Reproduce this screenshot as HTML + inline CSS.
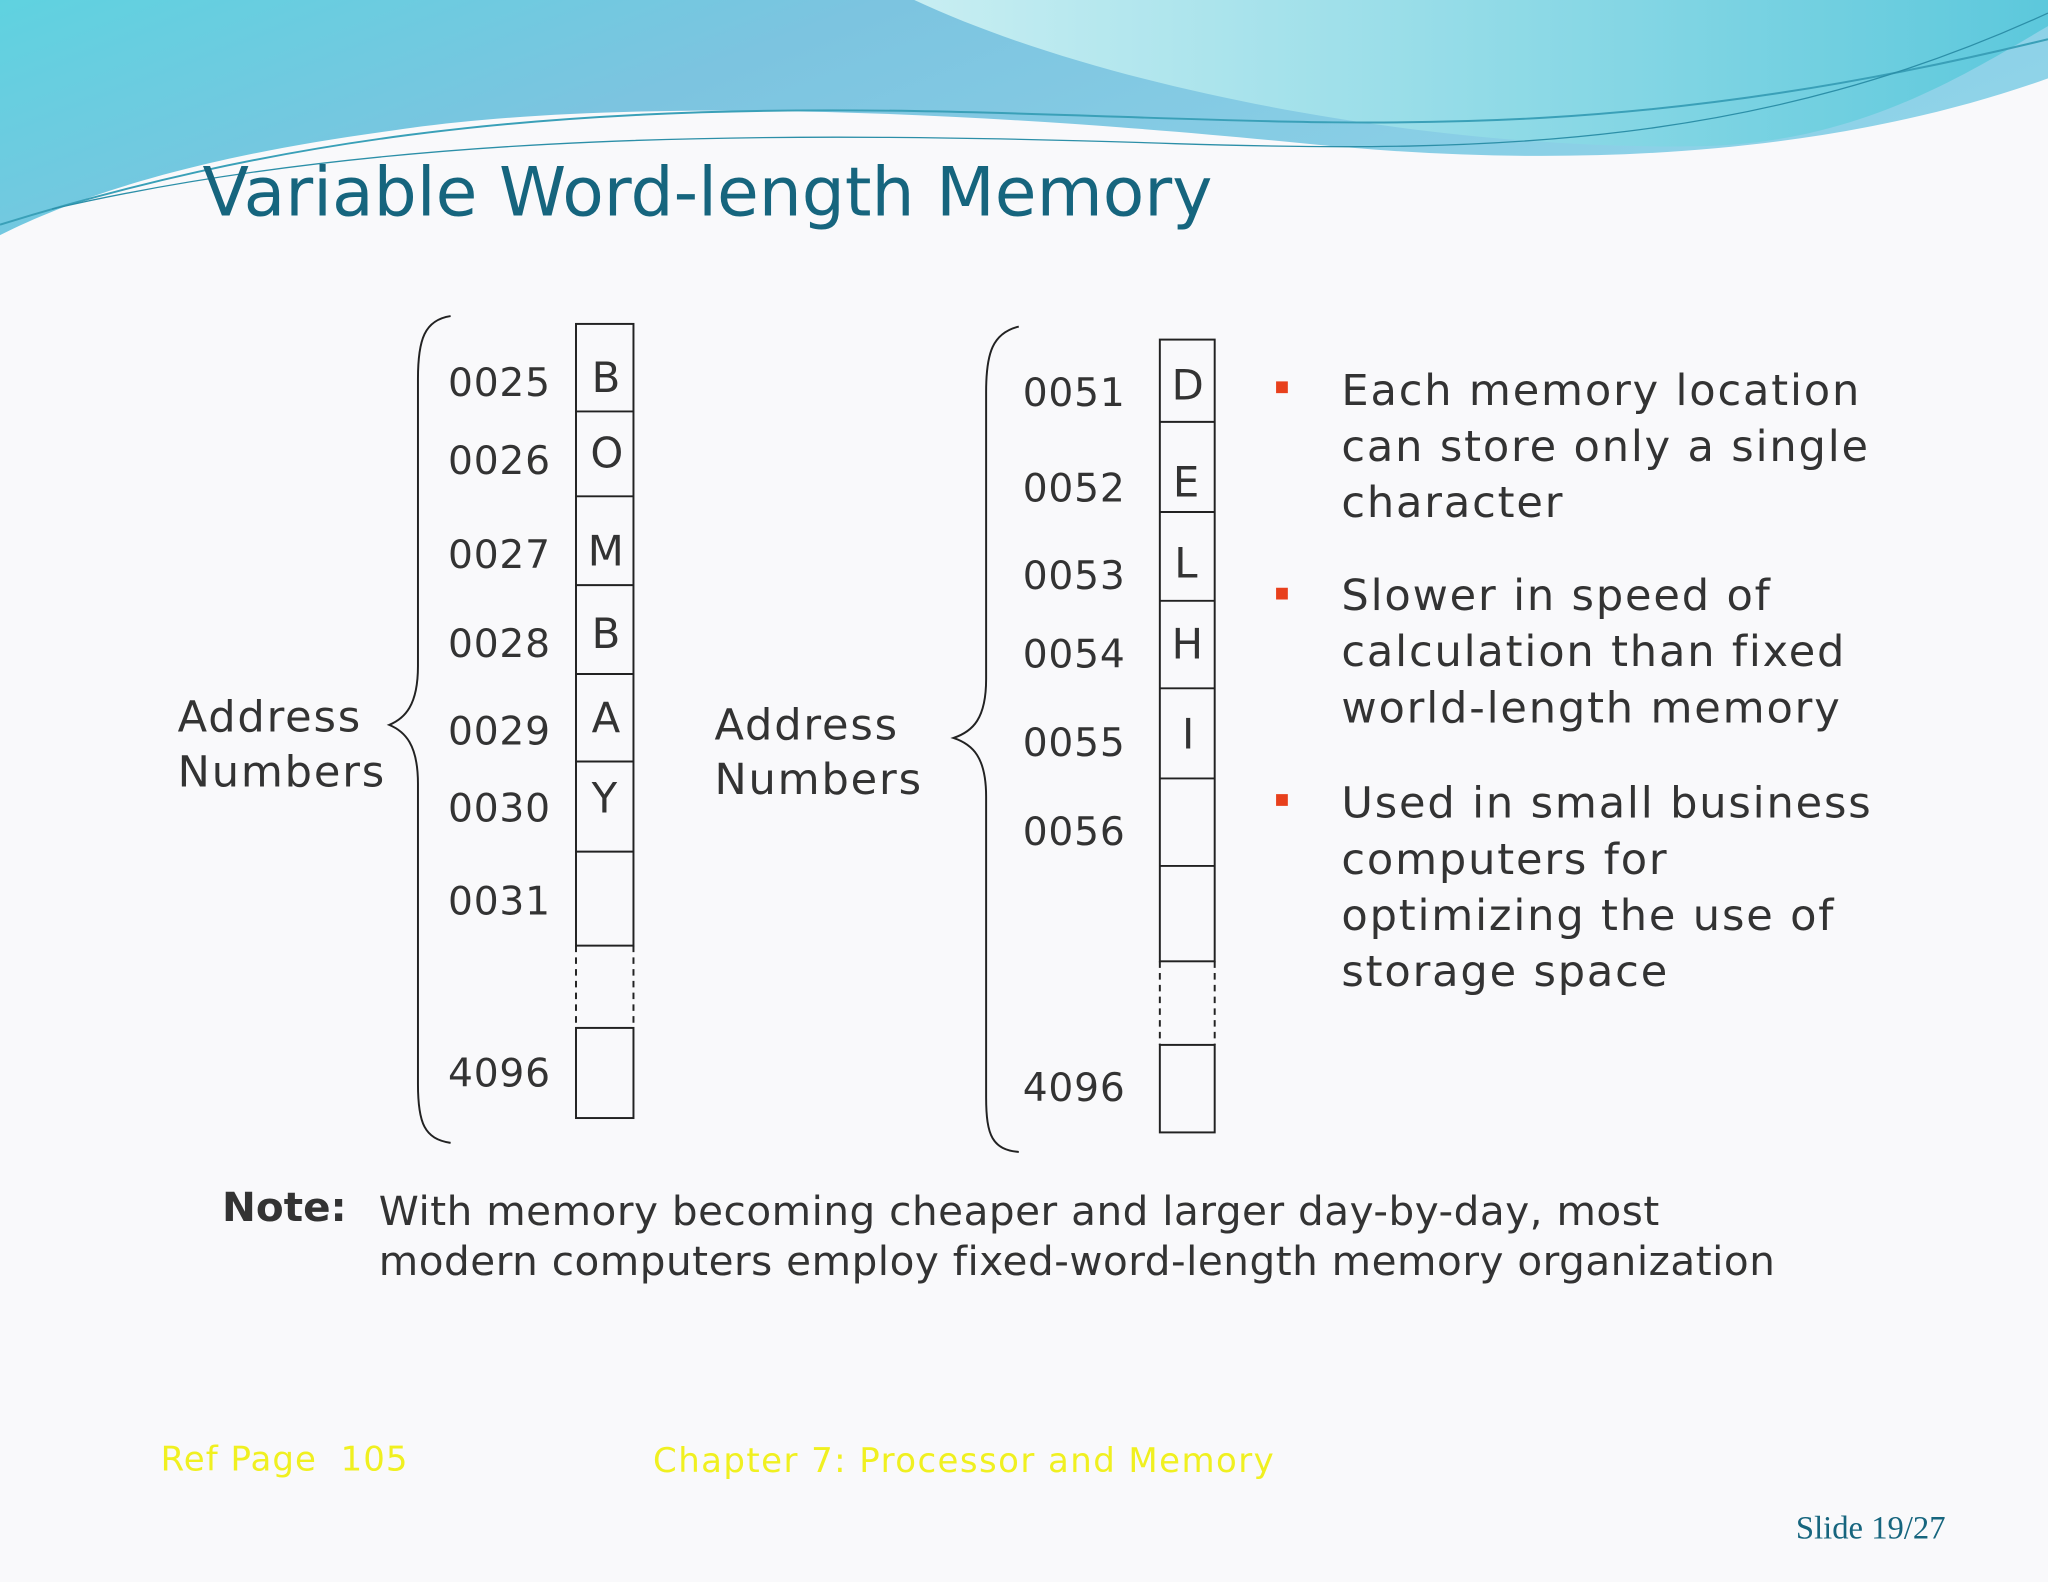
<!DOCTYPE html>
<html><head><meta charset="utf-8"><style>
html,body{margin:0;padding:0;background:#f9f9fb;}
#wrap{position:absolute;left:0;top:0;width:1568px;height:1211px;transform:scale(1.30612);transform-origin:0 0;font-family:"DejaVu Sans","Liberation Sans",sans-serif;color:#333;overflow:hidden;background:#f9f9fb;}
.t{position:absolute;white-space:nowrap;line-height:1;}
.a{font-size:30px;letter-spacing:0.6px;}
.l{font-size:32px;}
.b{font-size:33px;letter-spacing:1.4px;}
.sq{position:absolute;width:9px;height:9px;background:#e8401c;}
</style></head><body><div id="wrap">
<svg width="1568" height="1211" style="position:absolute;left:0;top:0">
<defs>
<linearGradient id="g1" x1="0" y1="0" x2="1" y2="0.3">
<stop offset="0" stop-color="#5fd2e0"/><stop offset="0.4" stop-color="#7cc4e0"/><stop offset="1" stop-color="#8fd3e8"/></linearGradient>
<linearGradient id="g2" x1="0" y1="0" x2="1" y2="0">
<stop offset="0" stop-color="#c8eef2"/><stop offset="1" stop-color="#5cc8dc"/></linearGradient>
</defs>
<path d="M0,0 H1568 V60 C1400,120 1200,130 1000,110 C800,90 500,70 300,100 C150,120 60,150 0,180 Z" fill="url(#g1)"/>
<path d="M700,0 C850,70 1100,115 1300,112 C1420,110 1500,60 1568,20 V0 Z" fill="url(#g2)"/>
<path d="M0,172 C200,110 400,80 700,85 C1000,90 1200,120 1568,30" stroke="#3aa0b8" stroke-width="1.5" fill="none"/>
<path d="M40,160 C300,100 600,100 900,110 C1150,118 1350,110 1568,10" stroke="#2c8fa8" stroke-width="1" fill="none"/>
<g stroke="#222" stroke-width="1.5" fill="none">
<rect x="441" y="248" width="44" height="476"/>
<line x1="441" y1="315" x2="485" y2="315"/><line x1="441" y1="380" x2="485" y2="380"/>
<line x1="441" y1="448" x2="485" y2="448"/><line x1="441" y1="516" x2="485" y2="516"/>
<line x1="441" y1="583" x2="485" y2="583"/><line x1="441" y1="652" x2="485" y2="652"/>
<line x1="441" y1="724" x2="441" y2="787" stroke-dasharray="5,4"/><line x1="485" y1="724" x2="485" y2="787" stroke-dasharray="5,4"/>
<rect x="441" y="787" width="44" height="69"/>
<rect x="888" y="260" width="42" height="476"/>
<line x1="888" y1="323" x2="930" y2="323"/><line x1="888" y1="392" x2="930" y2="392"/>
<line x1="888" y1="460" x2="930" y2="460"/><line x1="888" y1="527" x2="930" y2="527"/>
<line x1="888" y1="596" x2="930" y2="596"/><line x1="888" y1="663" x2="930" y2="663"/>
<line x1="888" y1="736" x2="888" y2="800" stroke-dasharray="5,4"/><line x1="930" y1="736" x2="930" y2="800" stroke-dasharray="5,4"/>
<rect x="888" y="800" width="42" height="67"/>
<path d="M345,242 C325,245 320,260 320,290 L320,510 C320,540 310,550 298,555 C310,560 320,570 320,600 L320,830 C320,860 325,872 345,875"/>
<path d="M780,250 C760,255 755,270 755,300 L755,520 C755,550 745,560 730,565 C745,570 755,580 755,610 L755,840 C755,870 760,880 780,882"/>
</g>
</svg>
<div class="t" style="left:155px;top:122px;font-size:52px;color:#16657e;">Variable Word-length Memory</div>
<div class="t l" style="left:453px;top:273px">B</div>
<div class="t l" style="left:452px;top:331px">O</div>
<div class="t l" style="left:450px;top:406px">M</div>
<div class="t l" style="left:453px;top:469px">B</div>
<div class="t l" style="left:453px;top:534px">A</div>
<div class="t l" style="left:453px;top:595px">Y</div>
<div class="t a" style="left:343px;top:279px">0025</div>
<div class="t a" style="left:343px;top:339px">0026</div>
<div class="t a" style="left:343px;top:411px">0027</div>
<div class="t a" style="left:343px;top:479px">0028</div>
<div class="t a" style="left:343px;top:546px">0029</div>
<div class="t a" style="left:343px;top:605px">0030</div>
<div class="t a" style="left:343px;top:676px">0031</div>
<div class="t a" style="left:343px;top:808px">4096</div>
<div class="t l" style="left:897px;top:279px">D</div>
<div class="t l" style="left:898px;top:353px">E</div>
<div class="t l" style="left:899px;top:415px">L</div>
<div class="t l" style="left:897px;top:477px">H</div>
<div class="t l" style="left:905px;top:546px">I</div>
<div class="t a" style="left:783px;top:287px">0051</div>
<div class="t a" style="left:783px;top:360px">0052</div>
<div class="t a" style="left:783px;top:427px">0053</div>
<div class="t a" style="left:783px;top:487px">0054</div>
<div class="t a" style="left:783px;top:555px">0055</div>
<div class="t a" style="left:783px;top:623px">0056</div>
<div class="t a" style="left:783px;top:819px">4096</div>
<div class="t b" style="left:136px;top:528px;line-height:42px">Address<br>Numbers</div>
<div class="t b" style="left:547px;top:534px;line-height:42px">Address<br>Numbers</div>
<div class="sq" style="left:977px;top:292px"></div>
<div class="sq" style="left:977px;top:450px"></div>
<div class="sq" style="left:977px;top:608px"></div>
<div class="t b" style="left:1027px;top:277px;line-height:43px">Each memory location<br>can store only a single<br>character</div>
<div class="t b" style="left:1027px;top:434px;line-height:43px">Slower in speed of<br>calculation than fixed<br>world-length memory</div>
<div class="t b" style="left:1027px;top:593px;line-height:43px">Used in small business<br>computers for<br>optimizing the use of<br>storage space</div>
<div class="t" style="left:170px;top:910px;font-size:31px;font-weight:bold">Note:</div>
<div class="t" style="left:290px;top:909px;font-size:31px;line-height:38px;letter-spacing:0.4px">With memory becoming cheaper and larger day-by-day, most<br>modern computers employ fixed-word-length memory organization</div>
<div class="t" style="left:123px;top:1105px;font-size:26px;color:#f0f020;letter-spacing:0.8px">Ref Page&nbsp; 105</div>
<div class="t" style="left:500px;top:1106px;font-size:26px;color:#f0f020;letter-spacing:1.1px">Chapter 7: Processor and Memory</div>
<div class="t" style="left:1375px;top:1158px;font-size:25px;color:#16657e;font-family:'Liberation Serif',serif">Slide 19/27</div>
</div></body></html>
